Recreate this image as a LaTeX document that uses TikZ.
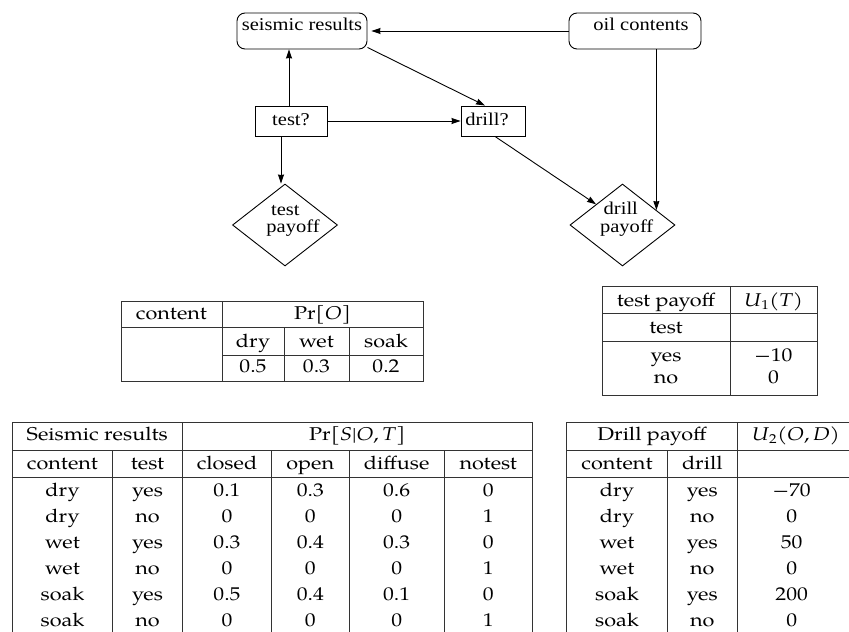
\documentclass[tikz,border=0pt]{standalone}
\usepackage{fontspec}
\usepackage{graphicx}
\newfontfamily\figfont{Liberation Serif}
\newfontfamily\tabfont{TeX Gyre Pagella}
\usetikzlibrary{shapes.geometric,arrows.meta,calc}
\newcommand{\sxa}[1]{\scalebox{1.14}[1]{#1}}
\newcommand{\sxb}[1]{\scalebox{1.17}[1]{#1}}
\newcommand{\mi}[1]{\textit{#1}}
\tikzset{
  fig/.style={font=\figfont\fontsize{18}{18}\selectfont},
  rbox/.style={fig, draw, rounded corners=8pt, line width=0.9pt, inner sep=0pt},
  sbox/.style={fig, draw, line width=0.9pt, inner sep=0pt},
  dia/.style={diamond, draw, line width=0.9pt, inner sep=0pt, minimum width=105pt, minimum height=82pt},
  dtxt/.style={fig, anchor=base, inner sep=0pt},
  tt/.style={anchor=base, inner sep=0pt, font=\tabfont\fontsize{18.5}{22}\selectfont},
  grid/.style={line width=0.9pt, draw=black!80},
  arr/.style={-{Stealth[length=9pt,width=6pt,inset=0.5pt]}, line width=0.9pt}
}
\begin{document}
\begin{tikzpicture}[x=1pt,y=-1pt]
\useasboundingbox (0,0) rectangle (849,632);
% ---------- diagram ----------
\node[rbox, minimum width=130pt, text height=17pt, text depth=19pt] (seis) at (302,31) {\sxa{seismic results}};
\node[rbox, minimum width=132pt, text height=17pt, text depth=19pt] (oil) at (635,31) {\hspace*{12pt}\sxa{oil contents}};
\node[sbox, minimum width=72pt, text height=19pt, text depth=11pt] (test) at (291,121) {\sxa{test?}};
\node[sbox, minimum width=64pt, text height=19pt, text depth=11pt] (drill) at (493,121) {\sxa{drill?}\hspace*{12pt}};
\node[dia] (tpay) at (285,225) {};
\node[dia] (dpay) at (622.5,225) {};
\node[dtxt] (tpay1) at (285.3,215) {\sxa{test}};
\node[dtxt] (tpay2) at (293,232.7) {\sxa{payoff}};
\node[dtxt] (dpay1) at (620.8,214) {\sxa{drill}};
\node[dtxt] (dpay2) at (626.7,232) {\sxa{payoff}};

\draw[arr] (oil.west) -- ([xshift=4pt]seis.east);
\draw[arr] ([xshift=-2pt]test.north) -- ([xshift=-2pt]test.north |- seis.south);
\draw[arr] (test.east) -- (drill.west);
\draw[arr] ([yshift=2pt]seis.south east) -- ([xshift=-8pt]drill.north);
\draw[arr] ([xshift=-10pt]test.south) -- ([xshift=-10pt]test.south |- tpay.north);
\draw[arr] ([xshift=2pt]drill.south) -- (dpay.north west);
\coordinate (dpin) at ($(dpay.north)!0.64!(dpay.east)$);
\draw[arr] (oil.south -| dpin) -- (dpin);

% ---------- Pr[O] table ----------
\draw[grid] (121,301) rectangle (423,381);
\draw[grid] (121,327) -- (423,327);
\draw[grid] (222,355) -- (423,355);
\draw[grid] (222,301) -- (222,381);
\draw[grid] (284,327) -- (284,381);
\draw[grid] (349,327) -- (349,381);
\node[tt] (po1) at (171.5,319) {\sxb{content}};
\node[tt] (po2) at (322.5,319) {\sxb{Pr[\mi{O}]}};
\node[tt] (po3) at (253,347) {\sxb{dry}};
\node[tt] (po4) at (316.5,347) {\sxb{wet}};
\node[tt] (po5) at (386,347) {\sxb{soak}};
\node[tt] (po6) at (253,372.5) {\sxb{0.5}};
\node[tt] (po7) at (316.5,372.5) {\sxb{0.3}};
\node[tt] (po8) at (386,372.5) {\sxb{0.2}};

% ---------- test payoff table ----------
\draw[grid] (602,286) rectangle (817,395);
\draw[grid] (602,313) -- (817,313);
\draw[grid] (602,341) -- (817,341);
\draw[grid] (730,286) -- (730,395);
\node[tt] (tp1) at (666,306.5) {\sxb{test payoff}};
\node[tt] (tp2) at (773.5,306.5) {\sxb{\mi{U}\textsubscript{1}(\mi{T}\/)}};
\node[tt] (tp3) at (666,333.5) {\sxb{test}};
\node[tt] (tp4) at (666,361.5) {\sxb{yes}};
\node[tt] (tp5) at (773.5,361.5) {\sxb{−10}};
\node[tt] (tp6) at (666,383) {\sxb{no}};
\node[tt] (tp7) at (773.5,383) {\sxb{0}};

% ---------- seismic table ----------
\draw[grid] (12.3,632) -- (12.3,422.3) -- (532.3,422.3) -- (532.3,632);
\draw[grid] (12.3,450) -- (532.3,450);
\draw[grid] (12.3,477.3) -- (532.3,477.3);
\draw[grid] (182.3,422.3) -- (182.3,632);
\foreach \xx in {112.7,271.7,349,444.3} {\draw[grid] (\xx,450) -- (\xx,632);}
\node[tt] (sh1) at (97.3,440.7) {\sxb{Seismic results}};
\node[tt] (sh2) at (357.3,440.7) {\sxb{Pr[\mi{S}|\mi{O},\,\mi{T}\/]}};
\node[tt] (sc1) at (62.5,469) {\sxb{content}};
\node[tt] (sc2) at (147.5,469) {\sxb{test}};
\node[tt] (sc3) at (227,469) {\sxb{closed}};
\node[tt] (sc4) at (310.3,469) {\sxb{open}};
\node[tt] (sc5) at (396.7,469) {\sxb{diffuse}};
\node[tt] (sc6) at (488.3,469) {\sxb{notest}};

% ---------- drill table ----------
\draw[grid] (566.7,632) -- (566.7,422.3) -- (849,422.3);
\draw[grid] (566.7,450) -- (849,450);
\draw[grid] (566.7,477.3) -- (849,477.3);
\draw[grid] (737.3,422.3) -- (737.3,632);
\draw[grid] (667.3,450) -- (667.3,632);
\node[tt] (dh1) at (652,440.7) {\sxb{Drill payoff}};
\node[tt] (dh2) at (795.8,440.7) {\sxb{\mi{U}\textsubscript{2}(\mi{O},\,\mi{D})}};
\node[tt] (dc1) at (617,469) {\sxb{content}};
\node[tt] (dc2) at (702.3,469) {\sxb{drill}};

% ---------- rows ----------
\foreach \c/\t/\a/\b/\d/\n/\u [count=\i from 0] in
  {dry/yes/0.1/0.3/0.6/0/−70,
   dry/no/0/0/0/1/0,
   wet/yes/0.3/0.4/0.3/0/50,
   wet/no/0/0/0/1/0,
   soak/yes/0.5/0.4/0.1/0/200,
   soak/no/0/0/0/1/0}{
  \pgfmathsetmacro\yy{496.5+26*\i}
  \node[tt] (r\i a) at (62.5,\yy) {\sxb{\c}};
  \node[tt] (r\i b) at (147.5,\yy) {\sxb{\t}};
  \node[tt] (r\i c) at (227,\yy) {\sxb{\a}};
  \node[tt] (r\i d) at (310.3,\yy) {\sxb{\b}};
  \node[tt] (r\i e) at (396.7,\yy) {\sxb{\d}};
  \node[tt] (r\i f) at (488.3,\yy) {\sxb{\n}};
  \node[tt] (r\i g) at (617,\yy) {\sxb{\c}};
  \node[tt] (r\i h) at (702.3,\yy) {\sxb{\t}};
  \node[tt] (r\i k) at (791.7,\yy) {\sxb{\u}};
}
\end{tikzpicture}
\end{document}
